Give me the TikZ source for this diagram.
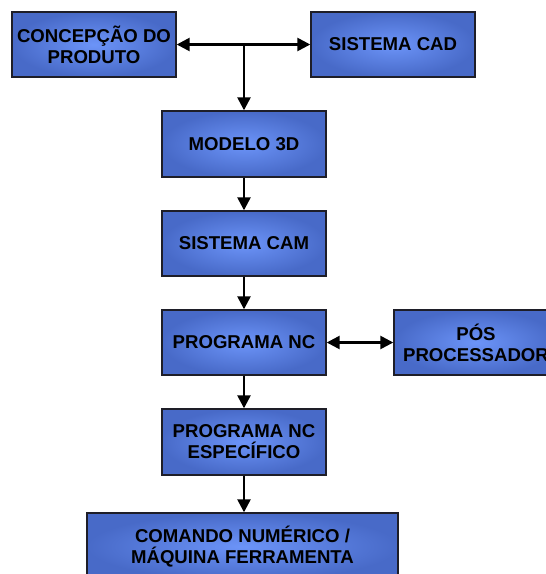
\documentclass[tikz,border=0pt]{standalone}
\usepackage{fontspec}
\setmainfont{Liberation Sans}
\usetikzlibrary{arrows.meta}

\definecolor{boxedge}{RGB}{72,106,200}
\definecolor{boxmid}{RGB}{108,148,248}
\definecolor{boxline}{RGB}{30,30,40}

\tikzset{
  flowbox/.style={
    rectangle, draw=boxline, line width=1.4pt,
    inner color=boxmid, outer color=boxedge,
    minimum width=164pt, minimum height=65pt, inner sep=0pt,
    align=center, text=black,
    font=\fontsize{18.6pt}{21pt}\selectfont\bfseries
  },
  link/.style={line width=2.5pt, draw=black},
  tip/.style={-{Triangle[length=13pt,width=13pt]}},
  tips/.style={{Triangle[length=13pt,width=13pt]}-{Triangle[length=13pt,width=13pt]}}
}

\begin{document}
\begin{tikzpicture}[x=1pt,y=-1pt]
  \useasboundingbox (0,0) rectangle (546,574);
  \clip (0,0) rectangle (546,574);

  % process boxes
  \node[flowbox] (concep) at (94,44.5)  {CONCEPÇÃO DO\\PRODUTO};
  \node[flowbox] (cad)    at (393,44.5) {SISTEMA CAD};
  \node[flowbox, minimum height=66pt] (modelo) at (244,144) {MODELO 3D};
  \node[flowbox] (cam)    at (244,243.5) {SISTEMA CAM};
  \node[flowbox] (prog)   at (244,342.5) {PROGRAMA NC};
  \node[flowbox] (pos)    at (476,342.5) {PÓS\\PROCESSADOR};
  \node[flowbox, minimum height=66pt] (esp) at (244,442) {PROGRAMA NC\\ESPECÍFICO};
  \node[flowbox, minimum width=311pt, minimum height=67pt] (cmd) at (242.5,546.5)
    {COMANDO NUMÉRICO /\\MÁQUINA FERRAMENTA};

  % branch point between the two top boxes
  \coordinate (junc) at (244,44.5);

  % connectors
  \draw[link, tips] (concep.east) -- (cad.west);
  \draw[link, tip] (junc) -- (modelo.north);
  \draw[link, tip] (modelo.south) -- (cam.north);
  \draw[link, tip] (cam.south) -- (prog.north);
  \draw[link, tips] (prog.east) -- (pos.west);
  \draw[link, tip] (prog.south) -- (esp.north);
  \draw[link, tip] (esp.south) -- (esp.south |- cmd.north);
\end{tikzpicture}
\end{document}
